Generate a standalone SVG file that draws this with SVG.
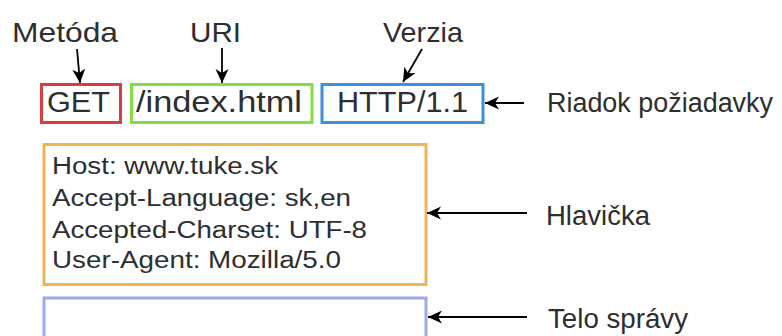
<svg xmlns="http://www.w3.org/2000/svg" width="782" height="336" viewBox="0 0 782 336">
  <style>
    .lbl { font-family: "Liberation Sans", Arial, sans-serif; fill: #2e2e2e; }
    .big { font-size: 28.5px; }
    .req { font-size: 30px; }
    .hdr { font-size: 23px; }
    .side { font-size: 27px; }
    .box { fill: #ffffff; stroke-width: 3; }
    .conn { stroke: #000; stroke-width: 1.8; fill: none; marker-end: url(#arrow); }
  </style>
  <defs>
    <marker id="arrow" markerUnits="userSpaceOnUse" markerWidth="16" markerHeight="14" refX="14" refY="7" orient="auto">
      <path d="M0,0.5 L14,7 L0,13.5 L4,7 Z" fill="#000"/>
    </marker>
  </defs>
  <rect width="782" height="336" fill="#ffffff"/>

  <!-- part labels -->
  <g id="label-metoda"><text class="lbl big" x="12" y="42" textLength="106" lengthAdjust="spacingAndGlyphs">Metóda</text></g>
  <g id="label-uri"><text class="lbl big" x="190" y="42" textLength="51" lengthAdjust="spacingAndGlyphs">URI</text></g>
  <g id="label-verzia"><text class="lbl big" x="383" y="42" textLength="80" lengthAdjust="spacingAndGlyphs">Verzia</text></g>

  <!-- request line parts -->
  <g id="method">
    <rect class="box" x="41.5" y="84.5" width="79" height="38" stroke="#dd3b3f"/>
    <text class="lbl req" x="47" y="112" textLength="63" lengthAdjust="spacingAndGlyphs">GET</text>
  </g>
  <g id="uri">
    <rect class="box" x="131.5" y="84.5" width="180.5" height="38" stroke="#84de43"/>
    <text class="lbl req" x="136" y="112" textLength="166" lengthAdjust="spacingAndGlyphs">/index.html</text>
  </g>
  <g id="version">
    <rect class="box" x="322" y="84.5" width="161" height="38" stroke="#3f8fdf"/>
    <text class="lbl req" x="337" y="112" textLength="131" lengthAdjust="spacingAndGlyphs">HTTP/1.1</text>
  </g>

  <!-- headers -->
  <g id="headers">
    <rect class="box" x="44" y="144.5" width="382" height="140" stroke="#f2b555"/>
    <text class="lbl hdr" x="52" y="174" textLength="226" lengthAdjust="spacingAndGlyphs">Host: www.tuke.sk</text>
    <text class="lbl hdr" x="52" y="206" textLength="299" lengthAdjust="spacingAndGlyphs">Accept-Language: sk,en</text>
    <text class="lbl hdr" x="52" y="238" textLength="315" lengthAdjust="spacingAndGlyphs">Accepted-Charset: UTF-8</text>
    <text class="lbl hdr" x="52" y="268" textLength="289" lengthAdjust="spacingAndGlyphs">User-Agent: Mozilla/5.0</text>
  </g>

  <!-- message body -->
  <g id="body">
    <rect class="box" x="44" y="298" width="382" height="60" stroke="#9ea9ee"/>
  </g>

  <!-- side labels -->
  <g id="label-riadok"><text class="lbl side" x="547" y="112" textLength="226" lengthAdjust="spacingAndGlyphs">Riadok požiadavky</text></g>
  <g id="label-hlavicka"><text class="lbl side" x="546" y="225" textLength="104" lengthAdjust="spacingAndGlyphs">Hlavička</text></g>
  <g id="label-telo"><text class="lbl side" x="548" y="328" textLength="140" lengthAdjust="spacingAndGlyphs">Telo správy</text></g>

  <!-- connectors -->
  <g id="connectors">
    <line class="conn" x1="77" y1="49" x2="80" y2="83"/>
    <line class="conn" x1="222" y1="48" x2="222" y2="83"/>
    <line class="conn" x1="422" y1="49" x2="403" y2="82"/>
    <line class="conn" x1="524" y1="103" x2="485" y2="103"/>
    <line class="conn" x1="527" y1="213" x2="427" y2="213"/>
    <line class="conn" x1="527" y1="317" x2="428" y2="317"/>
  </g>
</svg>
